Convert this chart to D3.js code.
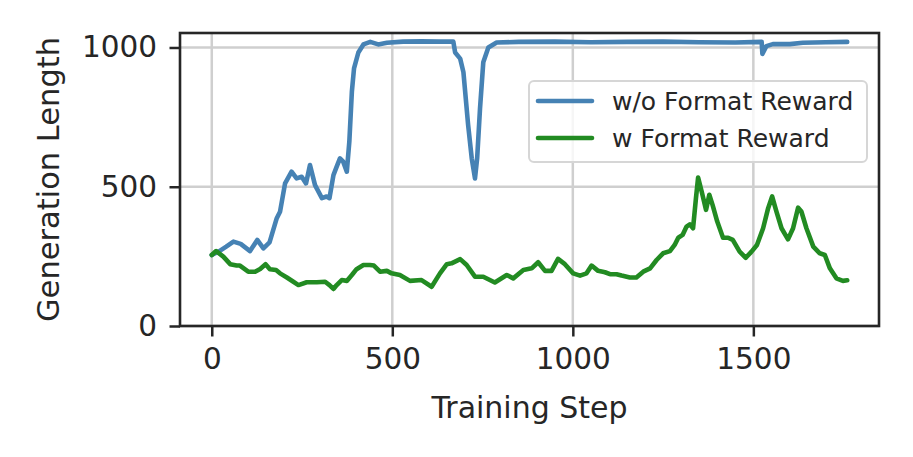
<!DOCTYPE html>
<html>
<head>
<meta charset="utf-8">
<script src="https://cdn.jsdelivr.net/npm/d3@7"></script>
<style>
  body { margin: 0; background: #fff; }
  text { font-family: "DejaVu Sans", sans-serif; fill: #262626; }
</style>
</head>
<body>
<svg id="chart" width="913" height="457"></svg>
<script>
// series
var seriesNames = ['w/o Format Reward', 'w Format Reward'];
var seriesColors = ['#4682b4', '#228b22'];

var blueSteps = [0, 20, 40, 60, 80, 106, 126, 143, 160, 180, 189, 203, 221, 235, 249, 261, 272, 286,
  305, 318, 326, 337, 346, 355, 364, 374, 381, 388, 394, 406, 420, 439, 461, 485, 530, 580, 630,
  669, 674, 688, 697, 710, 720, 729, 735, 743, 752, 766, 789, 850, 950, 1050, 1150, 1250, 1350,
  1450, 1523, 1525, 1536, 1554, 1601, 1637, 1700, 1760];
var blueLength = [255, 268, 285, 303, 295, 269, 309, 279, 300, 387, 410, 512, 554, 530, 536, 512, 578, 506,
  459, 465, 459, 542, 572, 602, 590, 554, 662, 841, 925, 982, 1011, 1020, 1011, 1017, 1021, 1022, 1021,
  1021, 982, 960, 911, 722, 602, 530, 602, 782, 947, 1000, 1018, 1020, 1021, 1019, 1020, 1021, 1019,
  1018, 1020, 977, 1005, 1012, 1012, 1017, 1019, 1020];

var greenSteps = [0, 12, 32, 51, 69, 78, 101, 120, 134, 149, 161, 178, 189, 208, 226, 240, 263, 291,
  314, 326, 337, 346, 360, 374, 388, 401, 420, 438, 449, 466, 485, 498, 521, 549, 581, 609, 632,
  651, 664, 688, 706, 729, 752, 784, 817, 835, 863, 886, 904, 923, 941, 959, 978, 1001, 1020,
  1038, 1052, 1070, 1089, 1103, 1121, 1135, 1158, 1176, 1195, 1214, 1232, 1250, 1269, 1282, 1292,
  1304, 1315, 1324, 1333, 1341, 1347, 1357, 1369, 1378, 1387, 1400, 1416, 1430, 1443, 1462, 1479,
  1495, 1510, 1527, 1541, 1552, 1564, 1578, 1596, 1610, 1624, 1633, 1647, 1666, 1684, 1698, 1712,
  1730, 1748, 1760];
var greenLength = [255, 269, 249, 222, 217, 217, 195, 195, 205, 222, 204, 201, 189, 174, 159, 147, 157, 157,
  159, 147, 133, 147, 165, 162, 183, 204, 219, 219, 217, 195, 198, 189, 183, 162, 165, 141, 189,
  222, 225, 240, 219, 177, 177, 156, 183, 171, 201, 207, 229, 198, 198, 241, 222, 189, 181,
  189, 217, 198, 193, 186, 186, 181, 174, 174, 195, 207, 237, 261, 269, 291, 317,
  327, 357, 365, 351, 459, 533, 482, 417, 471, 435, 375, 317, 317, 309, 267, 245,
  267, 291, 351, 423, 465, 411, 351, 311, 351, 425, 411, 351, 285, 261, 255, 207,
  171, 162, 164];

var xTicks = [0, 500, 1000, 1500];
var yTicks = [0, 500, 1000];

var svg = d3.select('#chart');
// plot box edges (note: "top" is a reserved global in browsers)
var boxL = 180, boxR = 879, boxT = 33, boxB = 326;

var x = d3.scaleLinear().domain([-88, 1848]).range([boxL, boxR]);
var y = d3.scaleLinear().domain([0, 1052]).range([boxB, boxT]);

// grid
svg.append('g').selectAll('line').data(xTicks).join('line')
  .attr('x1', function (d) { return x(d); }).attr('x2', function (d) { return x(d); })
  .attr('y1', boxT).attr('y2', boxB)
  .attr('stroke', '#cfcfcf').attr('stroke-width', 2.5);
svg.append('g').selectAll('line').data(yTicks).join('line')
  .attr('y1', function (d) { return y(d); }).attr('y2', function (d) { return y(d); })
  .attr('x1', boxL).attr('x2', boxR)
  .attr('stroke', '#cfcfcf').attr('stroke-width', 2.5);

// lines
var series = [
  { steps: blueSteps, values: blueLength },
  { steps: greenSteps, values: greenLength }
];
var line = d3.line()
  .x(function (d) { return x(d[0]); })
  .y(function (d) { return y(d[1]); });

series.forEach(function (s, i) {
  svg.append('path')
    .datum(d3.zip(s.steps, s.values))
    .attr('d', line)
    .attr('fill', 'none')
    .attr('stroke', seriesColors[i])
    .attr('stroke-width', 4.6)
    .attr('stroke-linejoin', 'round')
    .attr('stroke-linecap', 'round');
});

// axes
var xAxis = svg.append('g')
  .attr('transform', 'translate(0,' + boxB + ')')
  .call(d3.axisBottom(x).tickValues(xTicks).tickFormat(d3.format('d'))
    .tickSize(10.5).tickPadding(12).tickSizeOuter(0));
var yAxis = svg.append('g')
  .attr('transform', 'translate(' + boxL + ',0)')
  .call(d3.axisLeft(y).tickValues(yTicks).tickFormat(d3.format('d'))
    .tickSize(10.5).tickPadding(12.5).tickSizeOuter(0));

[xAxis, yAxis].forEach(function (ax) {
  ax.select('.domain').remove();
  ax.selectAll('.tick line').attr('stroke', '#262626').attr('stroke-width', 2.5);
  ax.selectAll('.tick text')
    .attr('fill', '#262626')
    .style('font-size', '29.5px')
    .style('font-family', '"DejaVu Sans", sans-serif');
});

// frame
svg.append('rect')
  .attr('x', boxL).attr('y', boxT)
  .attr('width', boxR - boxL).attr('height', boxB - boxT)
  .attr('fill', 'none').attr('stroke', '#262626').attr('stroke-width', 2.6);

// axis labels
svg.append('text')
  .attr('x', (boxL + boxR) / 2).attr('y', 418)
  .attr('text-anchor', 'middle')
  .style('font-size', '30px')
  .text('Training Step');
svg.append('text')
  .attr('transform', 'translate(59,' + (boxT + boxB) / 2 + ') rotate(-90)')
  .attr('text-anchor', 'middle')
  .style('font-size', '30.5px')
  .text('Generation Length');

// legend
var legend = svg.append('g');
legend.append('rect')
  .attr('x', 529).attr('y', 81).attr('width', 338).attr('height', 81)
  .attr('rx', 5)
  .attr('fill', '#fff').attr('fill-opacity', 0.8)
  .attr('stroke', '#d6d6d6').attr('stroke-width', 2);
seriesNames.forEach(function (name, i) {
  var ly = 101 + i * 37;
  legend.append('line')
    .attr('x1', 538).attr('x2', 592).attr('y1', ly).attr('y2', ly)
    .attr('stroke', seriesColors[i]).attr('stroke-width', 4.6)
    .attr('stroke-linecap', 'round');
  legend.append('text')
    .attr('x', 612).attr('y', ly + 9)
    .style('font-size', '25px')
    .text(name);
});
</script>
</body>
</html>
